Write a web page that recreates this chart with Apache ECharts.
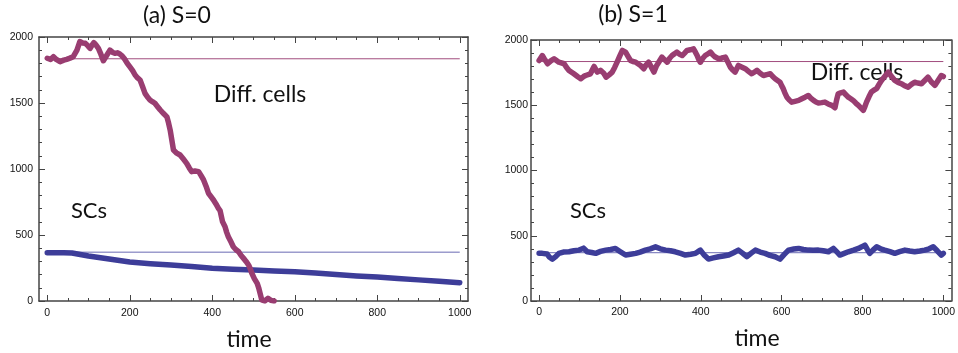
<!DOCTYPE html>
<html><head><meta charset="utf-8">
<script src="https://cdn.jsdelivr.net/npm/echarts@6/dist/echarts.min.js"></script>
<style>html,body{margin:0;padding:0;background:#fff}#c{width:958px;height:353px}</style>
</head><body><div id="c"></div>
<script>
const timeTicks=[0,200,400,600,800,1000];
const timeMinorTicks=[50,100,150,250,300,350,450,500,550,650,700,750,850,900,950];
const panelTitles=['(a) S=0','(b) S=1'];
const axisTitle='time';
const diffLabel='Diff. cells';
const scLabel='SCs';
const refDiff=1835;
const refSC=370;

const diffA=[[0,1839],[8,1830],[15,1851],[22,1830],[31,1813],[40,1825],[47,1831],[55,1840],[63,1851],[72,1900],[79,1965],[86,1955],[92,1952],[98,1935],[104,1914],[109,1940],[113,1957],[118,1940],[124,1914],[130,1870],[136,1820],[144,1860],[152,1901],[158,1885],[164,1876],[170,1880],[176,1871],[182,1855],[188,1831],[194,1800],[200,1775],[207,1745],[213,1712],[219,1690],[225,1674],[231,1625],[237,1573],[243,1545],[249,1523],[255,1510],[261,1498],[268,1470],[274,1447],[282,1420],[290,1395],[294,1350],[298,1295],[302,1220],[306,1144],[314,1120],[322,1106],[330,1075],[338,1043],[344,1010],[350,980],[358,985],[367,980],[373,950],[379,917],[385,870],[391,816],[397,790],[403,765],[409,735],[415,702],[419,685],[425,600],[431,563],[435,520],[439,487],[445,450],[451,411],[457,390],[464,373],[470,345],[476,323],[482,300],[488,273],[492,245],[496,210],[502,170],[509,134],[513,95],[516,58],[520,8],[527,0],[535,20],[542,5],[550,0]];
const scA=[[0,365],[20,366],[40,366],[60,364],[80,352],[100,341],[150,318],[200,296],[250,283],[300,272],[350,262],[400,248],[450,240],[500,235],[550,228],[600,222],[650,212],[700,200],[750,190],[800,181],[850,170],[900,160],[950,150],[1000,139]];
const diffB=[[0,1843],[8,1881],[14,1850],[21,1818],[29,1840],[37,1856],[49,1830],[62,1818],[68,1790],[74,1767],[86,1741],[95,1720],[103,1703],[110,1720],[115,1728],[127,1741],[136,1797],[144,1754],[152,1767],[160,1745],[166,1715],[174,1735],[181,1754],[187,1790],[193,1830],[200,1880],[206,1920],[214,1907],[220,1875],[226,1843],[232,1835],[239,1830],[251,1805],[259,1780],[265,1810],[271,1830],[278,1790],[284,1754],[290,1800],[296,1830],[304,1869],[310,1850],[317,1830],[323,1860],[329,1881],[335,1895],[341,1907],[348,1890],[354,1881],[360,1900],[366,1920],[374,1925],[382,1932],[387,1905],[391,1881],[395,1850],[399,1830],[405,1860],[411,1881],[418,1895],[424,1907],[430,1885],[436,1869],[442,1860],[448,1856],[455,1865],[461,1869],[467,1830],[473,1792],[479,1770],[485,1754],[493,1805],[502,1792],[510,1780],[518,1760],[526,1741],[533,1755],[539,1767],[547,1745],[555,1728],[563,1735],[572,1741],[578,1720],[584,1703],[590,1690],[596,1677],[600,1650],[604,1627],[608,1595],[613,1562],[619,1540],[625,1524],[633,1530],[642,1537],[650,1550],[658,1562],[666,1575],[672,1555],[679,1537],[685,1525],[691,1517],[699,1520],[707,1524],[715,1510],[724,1499],[732,1481],[736,1540],[740,1588],[746,1595],[753,1601],[759,1580],[765,1562],[771,1550],[777,1537],[784,1515],[790,1499],[796,1480],[802,1461],[806,1490],[810,1524],[816,1565],[822,1601],[828,1615],[835,1627],[841,1660],[847,1690],[855,1720],[864,1754],[872,1720],[880,1690],[888,1675],[896,1665],[904,1650],[913,1639],[921,1660],[929,1677],[937,1670],[946,1665],[954,1690],[962,1715],[970,1680],[979,1652],[987,1690],[995,1728],[1000,1720]];
const scB=[[0,365],[4,352],[8,365],[12,377],[20,360],[26,335],[33,321],[41,340],[49,365],[60,375],[74,377],[86,385],[99,390],[110,405],[119,377],[130,372],[140,365],[152,380],[165,390],[177,395],[189,403],[200,380],[214,352],[226,358],[239,365],[250,375],[263,390],[275,400],[288,415],[300,400],[313,390],[325,385],[337,377],[350,365],[362,352],[375,358],[387,365],[393,378],[399,390],[409,350],[419,321],[431,330],[444,339],[456,345],[469,352],[481,370],[493,390],[504,365],[514,339],[524,365],[535,390],[547,375],[559,365],[571,350],[584,339],[596,321],[606,355],[617,390],[630,398],[642,403],[654,395],[666,390],[678,388],[691,390],[703,385],[716,377],[722,390],[728,403],[736,378],[744,352],[755,365],[765,377],[778,390],[790,403],[798,415],[806,428],[812,395],[818,365],[826,390],[835,415],[845,400],[855,390],[868,378],[880,365],[892,378],[905,390],[917,383],[929,377],[942,383],[954,390],[965,400],[975,415],[985,385],[995,352],[1000,365]];

const PURPLE='#993D71', BLUE='#3D3D99';
const FRAME='#444';
const labelFont={fontSize:10.5,color:'#111',fontFamily:'Liberation Sans',formatter:function(v){return String(v);}};

function xAxes(g){
  const base={gridIndex:g,type:'value',min:-20,max:1020,splitLine:{show:false}};
  const line={show:true,onZero:false,lineStyle:{color:FRAME,width:1.5}};
  return [
    Object.assign({},base,{position:'bottom',axisLine:line,
      axisTick:{show:true,inside:true,length:6,customValues:timeTicks,lineStyle:{color:FRAME}},
      axisLabel:Object.assign({show:true,customValues:timeTicks,margin:g?6:7},labelFont)}),
    Object.assign({},base,{position:'bottom',axisLine:{show:false,onZero:false},
      axisTick:{show:true,inside:true,length:3,customValues:timeMinorTicks,lineStyle:{color:FRAME}},axisLabel:{show:false}}),
    Object.assign({},base,{position:'top',axisLine:line,
      axisTick:{show:true,inside:true,length:6,customValues:timeTicks,lineStyle:{color:FRAME}},axisLabel:{show:false}}),
    Object.assign({},base,{position:'top',axisLine:{show:false,onZero:false},
      axisTick:{show:true,inside:true,length:3,customValues:timeMinorTicks,lineStyle:{color:FRAME}},axisLabel:{show:false}})
  ];
}
function yAxes(g){
  const base={gridIndex:g,type:'value',min:0,max:2000,interval:500,splitLine:{show:false},minorSplitLine:{show:false},
    axisLine:{show:true,onZero:false,lineStyle:{color:FRAME,width:1.5}},
    axisTick:{show:true,inside:true,length:6,lineStyle:{color:FRAME}},
    minorTick:{show:true,splitNumber:5,length:3,lineStyle:{color:FRAME}}};
  return [
    Object.assign({},base,{position:'left',axisLabel:Object.assign({show:true,margin:g?3:6},labelFont)}),
    Object.assign({},base,{position:'right',axisLabel:{show:false}})
  ];
}
function panelSeries(g,diff,sc){
  const xi=g*4, yi=g*2;
  const common={type:'line',xAxisIndex:xi,yAxisIndex:yi,showSymbol:false,symbol:'none',animation:false,silent:true};
  return [
    Object.assign({},common,{name:'SC ref',data:[[0,refSC],[1000,refSC]],lineStyle:{color:'#6a6ab4',width:1},z:1}),
    Object.assign({},common,{name:'Diff ref',data:[[0,refDiff],[1000,refDiff]],lineStyle:{color:'#a24d7e',width:1},z:1}),
    Object.assign({},common,{name:scLabel,data:sc,lineStyle:{color:BLUE,width:5.5,cap:'round',join:'round'},z:2}),
    Object.assign({},common,{name:diffLabel,data:diff,lineStyle:{color:PURPLE,width:5.5,cap:'round',join:'round'},z:3})
  ];
}
function txt(text,x,y,size){
  return {type:'text',x:x,y:y,silent:true,style:{text:text,fill:'#111',font:size+'px Lato',align:'center',verticalAlign:'middle'}};
}
const chart=echarts.init(document.getElementById('c'),null,{renderer:'canvas'});
chart.setOption({
  animation:false,
  backgroundColor:'#fff',
  grid:[{left:39,top:37,width:429,height:264},{left:531,top:40,width:421,height:261}],
  xAxis:xAxes(0).concat(xAxes(1)),
  yAxis:yAxes(0).concat(yAxes(1)),
  series:panelSeries(0,diffA,scA).concat(panelSeries(1,diffB,scB)),
  graphic:[
    txt(panelTitles[0],177,16,23),
    txt(panelTitles[1],633,15,23),
    txt(axisTitle,249,340,23),
    txt(axisTitle,757,339,23),
    txt(diffLabel,260,95,23),
    txt(diffLabel,857,73,23),
    txt(scLabel,89,211,22),
    txt(scLabel,588,211,22)
  ]
});
</script></body></html>
